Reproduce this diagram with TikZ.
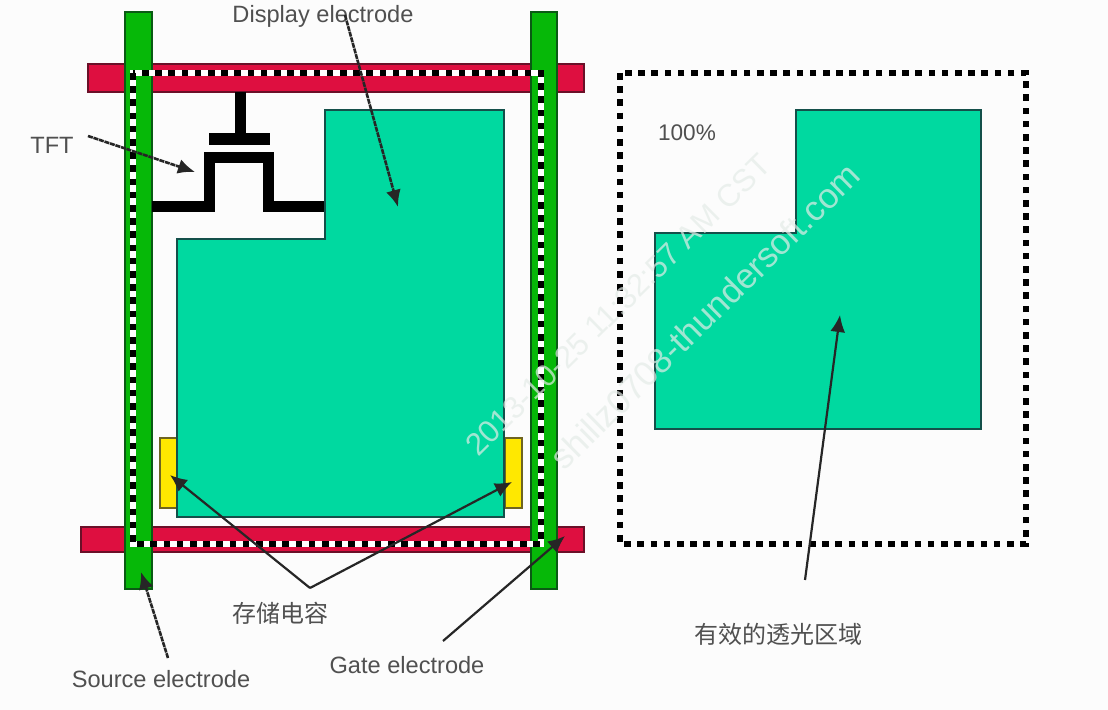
\documentclass[tikz,border=0pt]{standalone}
\usepackage{fontspec}
\setmainfont{Liberation Sans}
\newfontfamily\cjkfont{Noto Sans CJK SC}
\usetikzlibrary{arrows.meta}
\definecolor{busred}{HTML}{DE0F40}
\definecolor{busedge}{HTML}{6A1028}
\definecolor{srcgreen}{HTML}{06B808}
\definecolor{srcedge}{HTML}{0A5A14}
\definecolor{pixelgreen}{HTML}{00D9A0}
\definecolor{pixeledge}{HTML}{14504A}
\definecolor{capyellow}{HTML}{FFE800}
\definecolor{capedge}{HTML}{6E6420}
\definecolor{labelgray}{HTML}{505050}
\definecolor{stampgray}{HTML}{E4ECE8}
\tikzstyle{busline}=[fill=busred,draw=busedge,line width=1pt]
\tikzstyle{sourceline}=[fill=srcgreen,draw=srcedge,line width=1pt]
\tikzstyle{pixelarea}=[fill=pixelgreen,draw=pixeledge,line width=0.9pt]
\tikzstyle{capbox}=[fill=capyellow,draw=capedge,line width=1pt]
\tikzstyle{tftline}=[draw=black,line width=5.5pt,line join=miter]
\tikzstyle{ringbase}=[draw=white,line width=2.8pt]
\tikzstyle{ringline}=[draw=black,line width=2.8pt,dash pattern=on 3.3pt off 3.3pt]
\tikzstyle{namelabel}=[font=\fontsize{11.8}{14}\selectfont,text=labelgray,inner sep=0pt]
\tikzstyle{cjklabel}=[font=\fontsize{12}{14}\selectfont\cjkfont,text=labelgray,inner sep=0pt]
\tikzstyle{pointer}=[draw=black!85,line width=1.1pt,-{Latex[length=8.5pt,width=7.5pt]}]
\tikzstyle{roughpointer}=[pointer,line width=1.3pt,dash pattern=on 2.5pt off 0.4pt]
\tikzstyle{stamp}=[rotate=44.6,text=stampgray,opacity=0.7,inner sep=0pt]

\begin{document}
\begin{tikzpicture}[x=0.5pt,y=-0.5pt]
    \useasboundingbox (0,0) rectangle (1108,710);
    \fill[white!99!black] (0,0) rectangle (1108,710);

    % bus lines, then the source lines on top
    \path[busline] (88,64) rectangle (584,92);
    \path[busline] (81,527) rectangle (584,552);
    \foreach \xa/\xb in {125/152, 531/557}
        \path[sourceline] (\xa,12) rectangle (\xb,589);

    % transistor
    \draw[tftline] (240,92) -- (240,135);
    \fill[black] (209,133) rectangle (270,145);
    \draw[tftline] (152,207) -- (209,207) -- (209,158) -- (268,158) -- (268,207) -- (325,207);

    % storage capacitors and the two pixel areas
    \foreach \xa/\xb in {160/177, 505/522}
        \path[capbox] (\xa,438) rectangle (\xb,508);
    \path[pixelarea] (325,110) -- (504,110) -- (504,517) -- (177,517) -- (177,239) -- (325,239) -- cycle;
    \path[pixelarea] (796,110) -- (981,110) -- (981,429) -- (655,429) -- (655,233) -- (796,233) -- cycle;

    % dotted borders
    \path[ringbase] (133,73) rectangle (541,544);
    \path[ringline] (133,73) rectangle (541,544);
    \path[ringline] (620,73) rectangle (1026,544);

    \node[stamp,font=\fontsize{15.6}{18}\selectfont] (stampdate) at (618,305) {2013-10-25 11:32:57 AM CST};
    \node[stamp,font=\fontsize{17.5}{20}\selectfont] (stampsite) at (705,316) {shillz0708-thundersoft.com};

    \node[namelabel] (display) at (323,16) {Display electrode};
    \node[namelabel] (tftname) at (52,145) {TFT};
    \node[namelabel,font=\fontsize{11.3}{14}\selectfont] (percent) at (687,133) {100\%};
    \node[cjklabel] (storage) at (280,613) {存储电容};
    \node[namelabel] (sourcename) at (161,679) {Source electrode};
    \node[namelabel] (gatename) at (407,665) {Gate electrode};
    \node[cjklabel] (area) at (778,634) {有效的透光区域};

    \foreach \px/\py/\name in {345/15/displayfrom, 398/207/displayto, 88/136/tftfrom, 195/172/tftto,
        310/588/storagefrom, 170/475/capleft, 512/482/capright, 443/641/gatefrom, 565/536/gateto,
        168/658/sourcefrom, 141/572/sourceto, 805/580/areafrom, 840/315/areato}
        \coordinate (\name) at (\px,\py);

    \foreach \source/\dest in {displayfrom/displayto, tftfrom/tftto, sourcefrom/sourceto}
        \path[roughpointer] (\source) -- (\dest);
    \foreach \source/\dest in {storagefrom/capleft, storagefrom/capright, gatefrom/gateto, areafrom/areato}
        \path[pointer] (\source) -- (\dest);
\end{tikzpicture}
\end{document}
